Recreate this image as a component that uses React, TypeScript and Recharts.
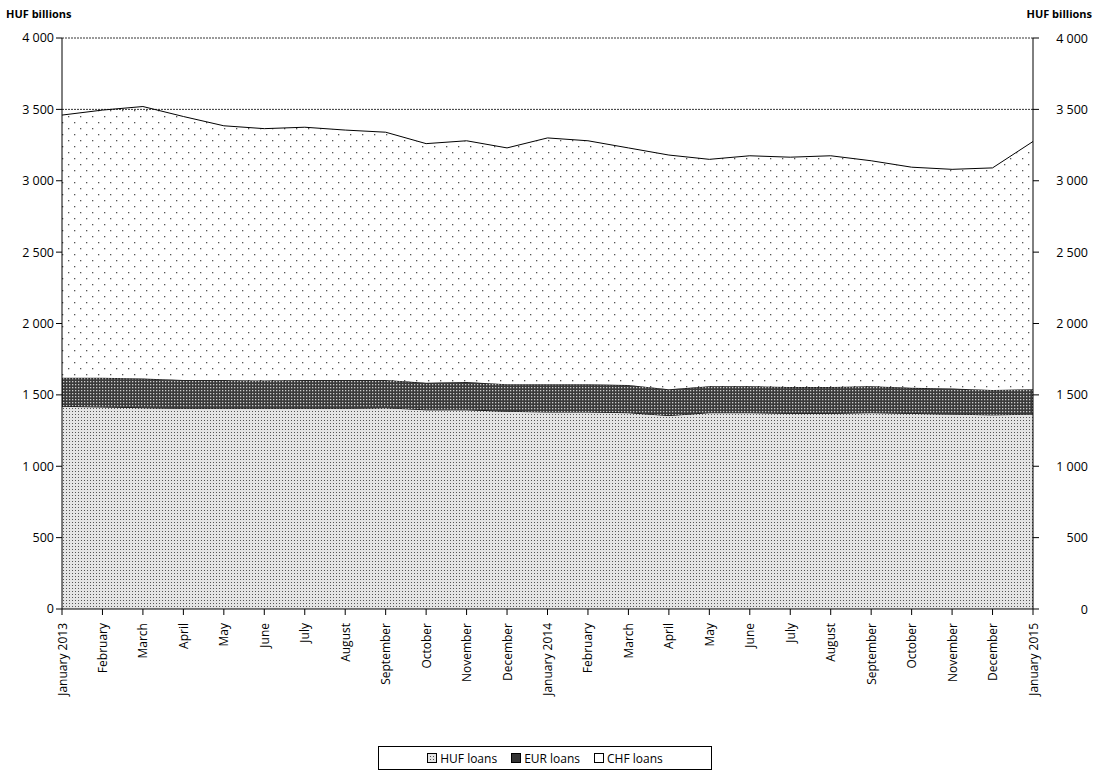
import { AreaChart, Area, XAxis, YAxis, ReferenceLine } from "recharts";

const months = [
  "January 2013", "February", "March", "April", "May", "June", "July", "August", "September", "October", "November", "December",
  "January 2014", "February", "March", "April", "May", "June", "July", "August", "September", "October", "November", "December",
  "January 2015",
];
const hufLoans = [1420, 1415, 1410, 1405, 1405, 1405, 1405, 1405, 1410, 1395, 1395, 1385, 1380, 1380, 1375, 1355, 1375, 1375, 1370, 1370, 1375, 1370, 1365, 1360, 1365];
const hufEurTop = [1620, 1620, 1615, 1605, 1605, 1600, 1605, 1605, 1605, 1585, 1590, 1575, 1575, 1575, 1570, 1540, 1560, 1560, 1555, 1555, 1560, 1550, 1545, 1535, 1540];
const totalLoans = [3460, 3495, 3520, 3450, 3385, 3365, 3375, 3355, 3340, 3260, 3280, 3230, 3300, 3280, 3230, 3180, 3150, 3175, 3165, 3175, 3140, 3095, 3080, 3090, 3275];
const yTicks = [0, 500, 1000, 1500, 2000, 2500, 3000, 3500, 4000];

const data = months.map((m, i) => ({
  month: m,
  huf: hufLoans[i],
  eur: hufEurTop[i] - hufLoans[i],
  chf: totalLoans[i] - hufEurTop[i],
}));

const font = "'Open Sans', Arial, sans-serif";
const fmt = (v: number) => (v >= 1000 ? `${Math.floor(v / 1000)} ${String(v % 1000).padStart(3, "0")}` : `${v}`);

const MonthTick = (props: any) => {
  const { x, y, payload } = props;
  return (
    <text x={x} y={y + 6} transform={`rotate(-90 ${x} ${y + 6})`} textAnchor="end" dominantBaseline="central" fontSize={12} fill="#000" fontFamily={font}>
      {payload.value}
    </text>
  );
};

const renderRightTick = (props: any) => (
  <text x={1088} y={props.y} textAnchor="end" dominantBaseline="central" fontSize={12.5} fill="#000" fontFamily={font}>
    {fmt(props.payload.value)}
  </text>
);

const swatch = (fill: string) => (
  <svg width={10} height={10} style={{ marginRight: 3 }}>
    <rect x={0.5} y={0.5} width={9} height={9} fill={fill} stroke="#000" />
  </svg>
);

export default function App() {
  return (
    <div style={{ position: "absolute", left: 0, top: 0, width: 1098, height: 778, background: "#fff", fontFamily: font }}>
      <div style={{ position: "absolute", left: 6, top: 6, fontSize: 11, fontWeight: "bold" }}>HUF billions</div>
      <div style={{ position: "absolute", right: 6, top: 6, fontSize: 11, fontWeight: "bold" }}>HUF billions</div>
      <AreaChart width={1098} height={778} data={data} margin={{ top: 38, right: 10, left: 12, bottom: 74 }}>
        <defs>
          <pattern id="hufPat" width="3" height="3" patternUnits="userSpaceOnUse">
            <rect width="3" height="3" fill="#e4e4e4" />
            <rect width="1" height="1" fill="#555" />
          </pattern>
          <pattern id="eurPat" width="3" height="3" patternUnits="userSpaceOnUse">
            <rect width="3" height="3" fill="#3a3a3a" />
            <rect width="1.3" height="1.3" fill="#ccc" />
          </pattern>
          <pattern id="chfPat" width="12" height="12" patternUnits="userSpaceOnUse">
            <rect width="12" height="12" fill="#fff" />
            <rect x="2" y="2" width="1.3" height="1.3" fill="#555" />
            <rect x="8" y="8" width="1.3" height="1.3" fill="#555" />
          </pattern>
        </defs>
        <XAxis dataKey="month" interval={0} height={95} tick={<MonthTick />} tickLine={{ stroke: "#000" }} axisLine={{ stroke: "#000" }} />
        <YAxis yAxisId="l" domain={[0, 4000]} ticks={yTicks} tickFormatter={fmt} width={50} tick={{ fontSize: 12.5, fill: "#000", fontFamily: font }} axisLine={{ stroke: "#000" }} tickLine={{ stroke: "#000" }} />
        <YAxis yAxisId="r" orientation="right" domain={[0, 4000]} ticks={yTicks} interval={0} width={55} tick={renderRightTick} axisLine={{ stroke: "#000" }} tickLine={{ stroke: "#000" }} />
        <ReferenceLine yAxisId="l" y={3500} stroke="#000" strokeDasharray="2 1" strokeWidth={0.8} />
        <ReferenceLine yAxisId="l" y={4000} stroke="#000" strokeDasharray="2 1" strokeWidth={0.8} />
        <Area yAxisId="l" type="linear" dataKey="huf" stackId="a" fill="url(#hufPat)" fillOpacity={1} stroke="#000" strokeWidth={1} isAnimationActive={false} />
        <Area yAxisId="l" type="linear" dataKey="eur" stackId="a" fill="url(#eurPat)" fillOpacity={1} stroke="#000" strokeWidth={1} isAnimationActive={false} />
        <Area yAxisId="l" type="linear" dataKey="chf" stackId="a" fill="url(#chfPat)" fillOpacity={1} stroke="#000" strokeWidth={1} isAnimationActive={false} />
        <Area yAxisId="r" type="linear" dataKey="huf" fill="none" stroke="none" activeDot={false} isAnimationActive={false} />
      </AreaChart>
      <div style={{ position: "absolute", left: 378, top: 746, width: 334, height: 24, border: "1px solid #000", boxSizing: "border-box", display: "flex", alignItems: "center", justifyContent: "center", gap: 14, fontSize: 12 }}>
        <span style={{ display: "flex", alignItems: "center" }}>{swatch("url(#hufPat)")}HUF loans</span>
        <span style={{ display: "flex", alignItems: "center" }}>{swatch("#333")}EUR loans</span>
        <span style={{ display: "flex", alignItems: "center" }}>{swatch("#fff")}CHF loans</span>
      </div>
    </div>
  );
}
